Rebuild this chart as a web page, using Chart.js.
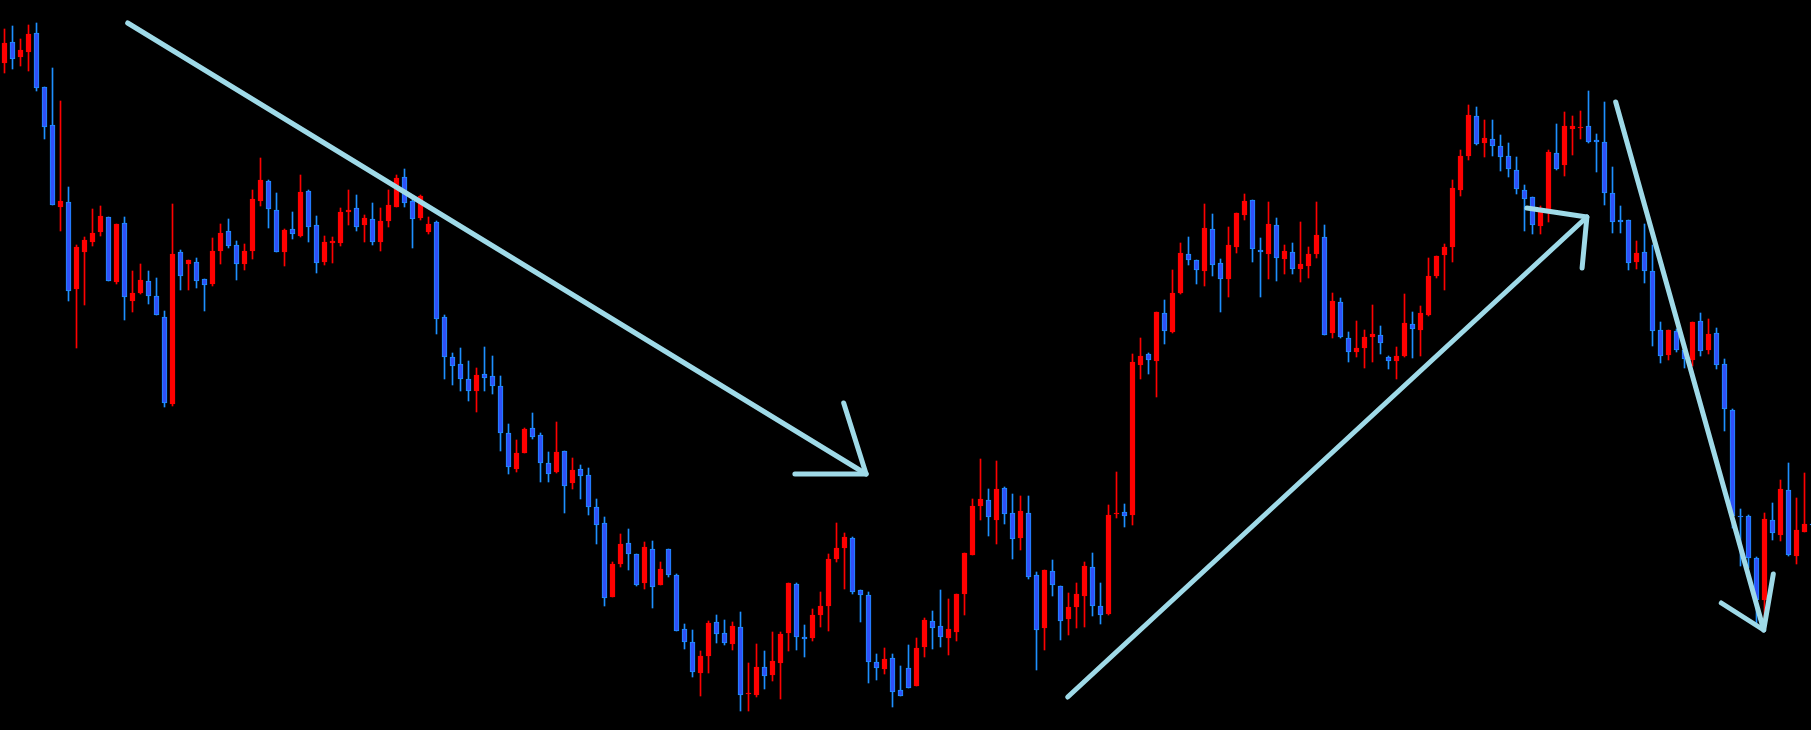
<!DOCTYPE html>
<html><head><meta charset="utf-8">
<script src="https://cdn.jsdelivr.net/npm/chart.js@4/dist/chart.umd.min.js"></script>
<style>html,body{margin:0;padding:0;background:#000;overflow:hidden}canvas{display:block}</style>
</head><body>
<canvas id="c" width="1811" height="730"></canvas>
<script>
// OHLC values (points), one entry per candle
const opens = [667,688,673,678,697,643,605,523,528,441,478,488,498,513,448,507,429,437,449,434,
413,326,478,466,468,451,446,479,499,485,466,479,529,549,520,478,501,494,539,505,
468,487,487,518,522,505,511,488,509,523,553,529,512,498,508,413,373,366,351,339,
356,354,344,297,261,277,302,295,267,258,279,247,261,255,223,207,133,166,187,176,
147,181,145,181,155,101,88,57,74,108,97,86,103,36,35,63,55,67,97,146,
93,92,115,124,171,182,192,140,135,68,61,72,40,62,44,83,109,104,92,98,
136,175,224,230,210,242,217,192,217,155,102,159,144,111,123,134,163,124,116,216,
218,215,365,376,369,417,398,437,476,470,459,501,467,451,483,515,530,480,476,505,
471,478,461,464,476,493,397,428,392,378,382,393,395,373,369,374,406,400,415,454,
475,483,540,574,614,587,591,584,574,560,540,533,504,520,577,565,601,602,604,590,
588,537,510,510,468,478,459,400,375,399,380,370,409,380,397,366,320,214,214,172,
130,210,195,240,174,198,206];
const highs = [701,704,691,705,707,643,662,629,543,485,493,521,524,513,506,513,459,466,459,452,
419,526,480,470,472,451,492,506,511,489,486,540,572,550,537,501,518,555,540,514,
494,493,522,540,535,515,527,522,540,555,561,533,535,513,509,415,377,382,369,362,
383,374,354,306,290,302,317,297,278,308,279,272,265,262,231,213,168,196,201,176,
188,189,168,181,156,106,100,79,109,115,110,108,118,67,86,79,98,98,147,147,
105,121,138,176,207,197,193,140,138,76,82,76,64,85,92,112,119,140,131,136,
177,231,271,241,269,243,236,234,234,158,160,170,144,137,147,168,177,147,225,258,
226,376,392,377,418,430,460,487,493,470,526,516,471,503,517,536,530,492,528,512,
485,487,508,483,528,505,437,432,398,409,400,425,404,374,383,436,418,424,472,474,
486,550,580,625,623,610,610,595,587,573,545,533,524,580,606,618,614,619,639,596,
628,563,524,510,489,506,485,408,400,401,386,408,417,411,402,371,321,221,215,173,
217,227,250,267,232,257,210];
const lows = [657,661,664,659,639,591,525,499,429,382,425,484,494,449,446,410,418,436,426,415,
323,324,440,440,442,419,444,466,482,450,460,471,524,502,478,464,491,493,488,457,
465,467,484,505,499,488,485,479,503,523,523,482,510,496,396,351,345,339,329,318,
339,336,279,256,258,277,291,248,248,257,217,241,231,215,186,124,133,163,160,144,
141,122,145,153,99,81,53,34,57,87,85,80,19,19,33,41,49,31,79,80,
73,89,103,99,168,141,136,108,47,50,56,23,34,42,44,73,81,83,75,89,
115,175,210,194,186,206,171,180,151,60,80,134,90,95,102,103,114,106,115,212,
203,205,351,356,333,386,397,436,465,446,444,454,418,433,477,510,468,433,451,449,
456,456,448,452,472,395,392,392,368,373,362,368,376,361,351,373,372,374,414,452,
440,468,534,570,585,573,574,559,553,536,499,496,496,508,560,554,575,591,587,558,
525,497,497,460,461,447,384,367,370,378,362,364,374,376,361,299,202,164,162,107,
107,190,189,174,166,198,202];
const closes = [687,671,680,696,642,603,525,529,439,483,490,497,514,449,506,433,437,450,434,415,
327,476,454,470,449,445,479,497,484,466,479,531,550,521,478,500,496,538,503,467,
488,489,518,520,503,512,488,509,525,552,527,511,534,506,411,373,364,351,339,355,
352,344,297,263,277,301,293,267,256,278,244,260,254,223,205,132,166,186,176,145,
183,143,161,155,99,88,58,74,107,96,87,104,35,37,63,54,69,96,147,93,
91,115,124,171,182,193,138,135,68,62,71,38,34,42,82,110,102,93,101,136,
177,224,231,213,241,216,191,219,153,100,160,145,109,123,136,164,124,115,215,217,
214,368,374,370,418,399,437,477,470,460,502,465,451,485,517,529,481,478,506,472,
479,461,466,476,495,395,429,393,378,382,393,396,387,369,374,407,401,417,454,474,
483,542,574,615,586,592,584,573,561,541,531,505,518,578,561,604,604,603,588,588,
537,508,508,467,477,459,399,374,400,380,371,408,379,396,365,321,214,213,172,130,
211,197,241,175,200,206,205];

// Trend arrows drawn over the chart: [candle index, price]
const arrow1Shaft = [[15.4,707],[107.7,256]];
const arrow1Head  = [[104.9,327],[107.7,256],[98.8,256]];
const arrow2Shaft = [[132.9,33],[197.8,513]];
const arrow2Head  = [[190.3,522],[197.8,513],[197.2,462]];
const arrow3Shaft = [[201.4,628],[219.9,100]];
const arrow3Head  = [[214.6,127],[219.9,100],[221.1,156]];

const RED = '#ff0000', BLUE_FILL = '#3050f8', BLUE_EDGE = '#1e90ff', ARROW = '#9fdae8';
const idx = opens.map((_, i) => i);
const isUp = idx.map(i => closes[i] >= opens[i]);
const wicks = idx.map(i => ({x: i, y: [lows[i], highs[i]]}));
const bodies = idx.map(i => ({x: i, y: [Math.min(opens[i], closes[i]), Math.max(opens[i], closes[i])]}));

function arrowSet(pts) {
  return {type: 'line', data: pts.map(p => ({x: p[0], y: p[1]})), borderColor: ARROW, borderWidth: 5,
    pointRadius: 0, fill: false, tension: 0, borderCapStyle: 'round', borderJoinStyle: 'round', order: 0};
}

new Chart(document.getElementById('c').getContext('2d'), {
  type: 'bar',
  data: {
    datasets: [
      arrowSet(arrow1Shaft), arrowSet(arrow1Head),
      arrowSet(arrow2Shaft), arrowSet(arrow2Head),
      arrowSet(arrow3Shaft), arrowSet(arrow3Head),
      {label: 'body', data: bodies, barThickness: 5, grouped: false, minBarLength: 1,
       backgroundColor: idx.map(i => isUp[i] ? RED : BLUE_FILL),
       borderColor: idx.map(i => isUp[i] ? RED : BLUE_EDGE),
       borderWidth: 1, borderSkipped: false, order: 1},
      {label: 'wick', data: wicks, barThickness: 1, grouped: false, minBarLength: 1,
       backgroundColor: idx.map(i => isUp[i] ? RED : BLUE_EDGE), borderWidth: 0, order: 2}
    ]
  },
  options: {
    responsive: false, devicePixelRatio: 1, animation: false,
    layout: {padding: 0},
    plugins: {legend: {display: false}, tooltip: {enabled: false}},
    scales: {
      x: {type: 'linear', min: -0.5625, max: 225.8125, offset: false, display: false, grid: {offset: false}},
      y: {type: 'linear', min: 0, max: 730, display: false}
    }
  }
});
</script>
</body></html>
